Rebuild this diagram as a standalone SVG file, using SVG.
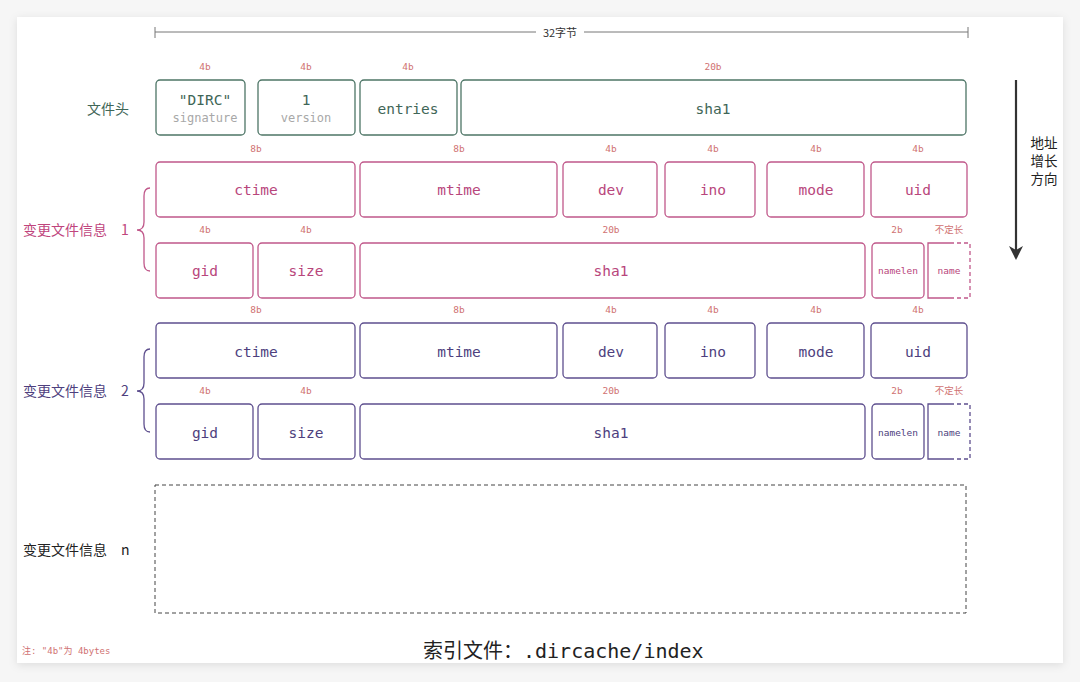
<svg xmlns="http://www.w3.org/2000/svg" width="1080" height="682" viewBox="0 0 1080 682">
<defs>
<filter id="sh" x="-5%" y="-5%" width="110%" height="110%"><feDropShadow dx="0" dy="2" stdDeviation="4" flood-color="#000" flood-opacity="0.10"/></filter>
<marker id="ah" markerWidth="14" markerHeight="14" refX="12" refY="7" orient="auto" markerUnits="userSpaceOnUse" viewBox="0 0 14 14"><path d="M0,0 L14,7 L0,14 L4,7 Z" fill="#333"/></marker>
</defs>
<style>
.mono{font-family:"DejaVu Sans Mono","Liberation Mono",monospace;}
.cjk{font-family:"Noto Sans CJK SC","DejaVu Sans",sans-serif;}
.sz{font-family:"DejaVu Sans Mono",monospace;font-size:9.5px;fill:#d07272;text-anchor:middle;}
.szc{font-family:"Noto Sans CJK SC",sans-serif;font-size:9.5px;fill:#d07272;text-anchor:middle;}
.g rect{fill:none;stroke:#4d7566;stroke-width:1.3;}
.p rect{fill:none;stroke:#c0588a;stroke-width:1.3;}
.u rect{fill:none;stroke:#5e4f8e;stroke-width:1.3;}
.g text.t{fill:#3f6657;}
.p text.t{fill:#b8467c;}
.u text.t{fill:#4e3f7e;}
.t{font-family:"DejaVu Sans Mono",monospace;font-size:14.5px;text-anchor:middle;}
.ts{font-family:"DejaVu Sans Mono",monospace;font-size:9.5px;text-anchor:middle;}
.sub{font-family:"DejaVu Sans Mono",monospace;font-size:12px;fill:#a8a8a8;text-anchor:middle;}
</style>
<rect width="1080" height="682" fill="#f6f6f6"/>
<rect x="17" y="17" width="1046" height="646" fill="#fff" filter="url(#sh)"/>

<g id="width-scale">
<line x1="155" y1="32" x2="968" y2="32" stroke="#777" stroke-width="1"/>
<line x1="155" y1="27" x2="155" y2="38" stroke="#777" stroke-width="1"/>
<line x1="968" y1="27" x2="968" y2="38" stroke="#777" stroke-width="1"/>
<rect x="536" y="24" width="48" height="16" fill="#fff"/>
<text x="560" y="36.5" class="cjk" font-size="11" fill="#333" text-anchor="middle">32字节</text>
</g>

<g id="header" class="g">
<text x="108" y="114" class="cjk" font-size="14" fill="#3f6657" text-anchor="middle">文件头</text>
<text x="205" y="70" class="sz">4b</text>
<text x="306" y="70" class="sz">4b</text>
<text x="408" y="70" class="sz">4b</text>
<text x="713" y="70" class="sz">20b</text>
<rect x="156" y="80" width="89" height="55" rx="4"/>
<rect x="258" y="80" width="97" height="55" rx="4"/>
<rect x="360" y="80" width="97" height="55" rx="4"/>
<rect x="461" y="80" width="505" height="55" rx="4"/>
<text x="205" y="105" class="t">"DIRC"</text>
<text x="205" y="122" class="sub">signature</text>
<text x="306" y="105" class="t">1</text>
<text x="306" y="122" class="sub">version</text>
<text x="408" y="114" class="t">entries</text>
<text x="713" y="114" class="t">sha1</text>
</g>

<g id="entry1" class="p">
<text y="235" class="cjk" font-size="14" fill="#c0457d"><tspan x="23">变更文件信息</tspan><tspan x="121">1</tspan></text>
<path d="M150,188 Q144,188 144,196 L144,222 Q144,230 137,230 Q144,230 144,238 L144,263 Q144,271 150,271" fill="none" stroke="#c0588a" stroke-width="1.3"/>
<text x="256" y="152" class="sz">8b</text>
<text x="459" y="152" class="sz">8b</text>
<text x="611" y="152" class="sz">4b</text>
<text x="713" y="152" class="sz">4b</text>
<text x="816" y="152" class="sz">4b</text>
<text x="918" y="152" class="sz">4b</text>
<rect x="156" y="162" width="199" height="55" rx="4"/>
<rect x="360" y="162" width="197" height="55" rx="4"/>
<rect x="563" y="162" width="94" height="55" rx="4"/>
<rect x="665" y="162" width="90" height="55" rx="4"/>
<rect x="767" y="162" width="97" height="55" rx="4"/>
<rect x="871" y="162" width="96" height="55" rx="4"/>
<text x="256" y="195" class="t">ctime</text>
<text x="459" y="195" class="t">mtime</text>
<text x="611" y="195" class="t">dev</text>
<text x="713" y="195" class="t">ino</text>
<text x="816" y="195" class="t">mode</text>
<text x="918" y="195" class="t">uid</text>
<text x="205" y="233" class="sz">4b</text>
<text x="306" y="233" class="sz">4b</text>
<text x="611" y="233" class="sz">20b</text>
<text x="897" y="233" class="sz">2b</text>
<text x="949" y="233" class="szc">不定长</text>
<rect x="156" y="243" width="97" height="55" rx="4"/>
<rect x="258" y="243" width="97" height="55" rx="4"/>
<rect x="360" y="243" width="505" height="55" rx="4"/>
<rect x="872" y="243" width="52" height="55" rx="4"/>
<path d="M950,243 L928,243 L928,298 L950,298" fill="none" stroke="#c0588a" stroke-width="1.3"/>
<path d="M950,243 L970,243 L970,298 L950,298" fill="none" stroke="#c0588a" stroke-width="1.3" stroke-dasharray="4,3"/>
<text x="205" y="276" class="t">gid</text>
<text x="306" y="276" class="t">size</text>
<text x="611" y="276" class="t">sha1</text>
<text x="898" y="274" class="ts t">namelen</text>
<text x="949" y="274" class="ts t">name</text>
</g>

<g id="entry2" class="u">
<text y="396" class="cjk" font-size="14" fill="#4e3f7e"><tspan x="23">变更文件信息</tspan><tspan x="121">2</tspan></text>
<path d="M150,349 Q144,349 144,357 L144,383 Q144,391 137,391 Q144,391 144,399 L144,424 Q144,432 150,432" fill="none" stroke="#5e4f8e" stroke-width="1.3"/>
<text x="256" y="313" class="sz">8b</text>
<text x="459" y="313" class="sz">8b</text>
<text x="611" y="313" class="sz">4b</text>
<text x="713" y="313" class="sz">4b</text>
<text x="816" y="313" class="sz">4b</text>
<text x="918" y="313" class="sz">4b</text>
<rect x="156" y="323" width="199" height="55" rx="4"/>
<rect x="360" y="323" width="197" height="55" rx="4"/>
<rect x="563" y="323" width="94" height="55" rx="4"/>
<rect x="665" y="323" width="90" height="55" rx="4"/>
<rect x="767" y="323" width="97" height="55" rx="4"/>
<rect x="871" y="323" width="96" height="55" rx="4"/>
<text x="256" y="357" class="t">ctime</text>
<text x="459" y="357" class="t">mtime</text>
<text x="611" y="357" class="t">dev</text>
<text x="713" y="357" class="t">ino</text>
<text x="816" y="357" class="t">mode</text>
<text x="918" y="357" class="t">uid</text>
<text x="205" y="394" class="sz">4b</text>
<text x="306" y="394" class="sz">4b</text>
<text x="611" y="394" class="sz">20b</text>
<text x="897" y="394" class="sz">2b</text>
<text x="949" y="394" class="szc">不定长</text>
<rect x="156" y="404" width="97" height="55" rx="4"/>
<rect x="258" y="404" width="97" height="55" rx="4"/>
<rect x="360" y="404" width="505" height="55" rx="4"/>
<rect x="872" y="404" width="52" height="55" rx="4"/>
<path d="M950,404 L928,404 L928,459 L950,459" fill="none" stroke="#5e4f8e" stroke-width="1.3"/>
<path d="M950,404 L970,404 L970,459 L950,459" fill="none" stroke="#5e4f8e" stroke-width="1.3" stroke-dasharray="4,3"/>
<text x="205" y="438" class="t">gid</text>
<text x="306" y="438" class="t">size</text>
<text x="611" y="438" class="t">sha1</text>
<text x="898" y="436" class="ts t">namelen</text>
<text x="949" y="436" class="ts t">name</text>
</g>

<g id="entryn">
<text y="555" class="cjk" font-size="14" fill="#222"><tspan x="23">变更文件信息</tspan><tspan x="121">n</tspan></text>
<rect x="155" y="485" width="811" height="128" fill="none" stroke="#444" stroke-width="1" stroke-dasharray="4,3"/>
</g>

<g id="connectors">
<line x1="1016" y1="80" x2="1016" y2="258" stroke="#333" stroke-width="2.2" marker-end="url(#ah)"/>
</g>

<g id="direction-label">
<text x="1044" y="148" class="cjk" font-size="13.5" fill="#222" text-anchor="middle">地址</text>
<text x="1044" y="166" class="cjk" font-size="13.5" fill="#222" text-anchor="middle">增长</text>
<text x="1044" y="184" class="cjk" font-size="13.5" fill="#222" text-anchor="middle">方向</text>
</g>

<g id="footer">
<text x="22" y="654" font-family="'DejaVu Sans Mono','Noto Sans CJK SC',monospace" font-size="9" fill="#d07272" xml:space="preserve">注: "4b"为 4bytes</text>
<text x="423" y="658" font-size="20" fill="#222" xml:space="preserve"><tspan class="cjk">索引文件：</tspan><tspan class="mono">.dircache/index</tspan></text>
</g>
</svg>
